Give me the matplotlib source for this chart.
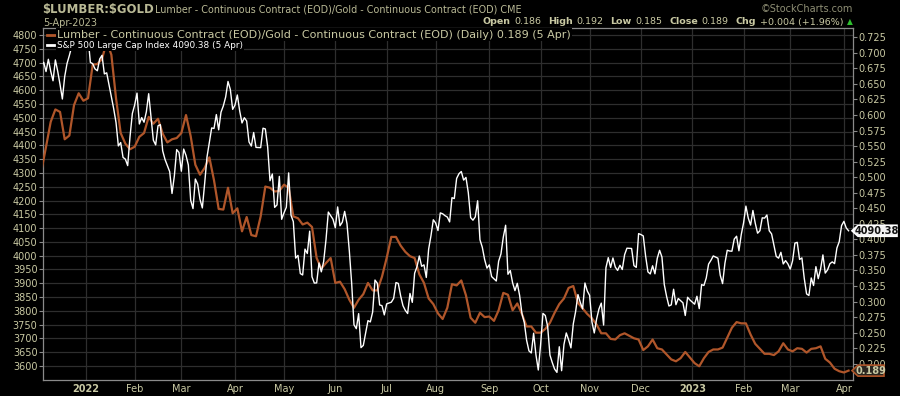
import numpy as np
import pandas as pd
import matplotlib
matplotlib.use("Agg")
import matplotlib.pyplot as plt
from matplotlib.lines import Line2D
from matplotlib.patches import Polygon
from matplotlib.transforms import IdentityTransform

plt.rcParams['font.family'] = ['DejaVu Sans']

# ------------------------------------------------------------------ data
# S&P 500 daily closes, one entry per weekday from SP_START (None = market holiday)
SP_START = "2021-12-07"
sp500_close = [
    # Dec 2021
    4686.75, 4701.21, 4667.45, 4712.02, 4668.97, 4634.09, 4709.85, 4668.67, 4620.64, 4568.02,
    4649.23, 4696.56, 4725.79, None, 4791.19, 4786.35, 4793.06, 4778.73, 4766.18,
    # Jan 2022
    4796.56, 4793.54, 4700.58, 4696.05, 4677.03, 4670.29, 4713.07, 4726.35, 4659.03, 4662.85,
    None, 4577.11, 4532.76, 4482.73, 4397.94, 4410.13, 4356.45, 4349.93, 4326.51, 4431.85, 4515.55,
    # Feb 2022
    4546.54, 4589.38, 4477.44, 4500.53, 4483.87, 4521.54, 4587.18, 4504.08, 4418.64, 4401.67,
    4471.07, 4475.01, 4380.26, 4348.87, None, 4304.76, 4225.50, 4288.70, 4384.65, 4373.94,
    # Mar 2022
    4306.26, 4386.54, 4363.49, 4328.87, 4201.09, 4170.70, 4277.88, 4259.52, 4204.31, 4173.11,
    4262.45, 4357.86, 4411.67, 4463.12, 4461.18, 4511.61, 4456.24, 4520.16, 4543.06, 4575.52,
    4631.60, 4602.45, 4530.41,
    # Apr 2022
    4545.86, 4582.64, 4525.12, 4481.15, 4500.21, 4488.28, 4412.53, 4397.45, 4446.59, 4392.59,
    None, 4391.69, 4462.21, 4459.45, 4393.66, 4271.78, 4296.12, 4175.20, 4183.96, 4287.50, 4131.93,
    # May 2022
    4155.38, 4175.48, 4300.17, 4146.87, 4123.34, 3991.24, 4001.05, 3935.18, 3930.08, 4023.89,
    4008.01, 4088.85, 3923.68, 3900.79, 3901.36, 3973.75, 3941.48, 3978.73, 4057.84, 4158.24,
    None, 4132.15,
    # Jun 2022
    4101.23, 4176.82, 4108.54, 4121.43, 4160.68, 4115.77, 4017.82, 3900.86, 3749.63, 3735.48,
    3789.99, 3666.77, 3674.84, None, 3764.79, 3759.89, 3795.73, 3911.74, 3900.11, 3821.55,
    3818.83, 3785.38,
    # Jul 2022
    3825.33, None, 3831.39, 3845.08, 3902.62, 3899.38, 3854.43, 3818.80, 3801.78, 3790.38,
    3863.16, 3830.85, 3936.69, 3959.90, 3998.95, 3961.63, 3966.84, 3921.05, 4023.61, 4072.43,
    4130.29,
    # Aug 2022
    4118.63, 4091.19, 4155.17, 4151.94, 4145.19, 4140.06, 4122.47, 4210.24, 4207.27, 4280.15,
    4297.14, 4305.20, 4274.04, 4283.74, 4228.48, 4137.99, 4128.73, 4140.77, 4199.12, 4057.66,
    4030.61, 3986.16, 3955.00,
    # Sep 2022
    3966.85, 3924.26, None, 3908.19, 3979.87, 4006.18, 4067.36, 4110.41, 3932.69, 3946.01,
    3901.35, 3873.33, 3899.89, 3855.93, 3789.93, 3757.99, 3693.23, 3655.04, 3647.29, 3719.04,
    3640.47, 3585.62,
    # Oct 2022
    3678.43, 3790.93, 3783.28, 3744.52, 3639.66, 3612.39, 3588.84, 3577.03, 3669.91, 3583.07,
    3677.95, 3719.98, 3695.16, 3665.78, 3752.75, 3797.34, 3859.11, 3830.60, 3807.30, 3901.06,
    3871.98,
    # Nov 2022
    3856.10, 3759.69, 3719.89, 3770.55, 3806.80, 3828.11, 3748.57, 3956.37, 3992.93, 3957.25,
    3991.73, 3958.79, 3946.56, 3965.34, 3949.94, 4003.58, 4027.26, None, 4026.12, 3963.94,
    3957.63, 4080.11,
    # Dec 2022
    4076.57, 4071.70, 3998.84, 3941.26, 3933.92, 3963.51, 3934.38, 3990.56, 4019.65, 3995.32,
    3895.75, 3852.36, 3817.66, 3821.62, 3878.44, 3822.39, 3844.82, None, 3829.25, 3783.22,
    3849.28, 3839.50,
    # Jan 2023
    None, 3824.14, 3852.97, 3808.10, 3895.08, 3892.09, 3919.25, 3969.61, 3983.17, 3999.09,
    None, 3990.97, 3928.86, 3898.85, 3972.61, 4019.81, 4016.95, 4016.22, 4060.43, 4070.56,
    4017.77, 4076.60,
    # Feb 2023
    4119.21, 4179.76, 4136.48, 4111.08, 4164.00, 4117.86, 4081.50, 4090.46, 4137.29, 4136.13,
    4147.60, 4090.41, 4079.09, None, 3997.34, 3991.05, 4012.32, 3970.04, 3982.24, 3970.15,
    # Mar 2023
    3951.39, 3981.35, 4045.64, 4048.42, 3986.37, 3992.01, 3918.32, 3861.59, 3855.76, 3919.29,
    3891.93, 3960.28, 3916.64, 3951.57, 4002.87, 3936.97, 3948.72, 3970.99, 3977.53, 3971.27,
    4027.81, 4050.83, 4109.31,
    # Apr 2023
    4124.51, 4100.60, 4090.38,
]

# Lumber/Gold ratio, read every second weekday from RATIO_START
RATIO_START = "2021-12-07"
lumber_gold_ratio = [
    0.510, 0.549, 0.589, 0.609, 0.605, 0.561, 0.567, 0.616, 0.635, 0.623,
    0.627, 0.681, 0.682, 0.690, 0.718, 0.697, 0.627, 0.571, 0.554, 0.545,
    0.549, 0.565, 0.571, 0.597, 0.586, 0.594, 0.570, 0.556, 0.561, 0.563,
    0.571, 0.600, 0.566, 0.520, 0.504, 0.515, 0.532, 0.495, 0.449, 0.448,
    0.483, 0.442, 0.450, 0.413, 0.436, 0.407, 0.405, 0.437, 0.485, 0.483,
    0.477, 0.478, 0.488, 0.483, 0.437, 0.434, 0.424, 0.427, 0.420, 0.370,
    0.353, 0.362, 0.370, 0.330, 0.332, 0.320, 0.303, 0.290, 0.303, 0.312,
    0.330, 0.318, 0.318, 0.340, 0.370, 0.404, 0.404, 0.390, 0.380, 0.373,
    0.370, 0.344, 0.330, 0.305, 0.296, 0.281, 0.272, 0.290, 0.328, 0.326,
    0.334, 0.310, 0.274, 0.266, 0.282, 0.275, 0.276, 0.269, 0.286, 0.314,
    0.311, 0.286, 0.297, 0.280, 0.260, 0.260, 0.250, 0.250, 0.256, 0.266,
    0.282, 0.296, 0.305, 0.322, 0.325, 0.298, 0.289, 0.280, 0.273, 0.263,
    0.249, 0.249, 0.240, 0.239, 0.246, 0.249, 0.245, 0.241, 0.239, 0.222,
    0.228, 0.239, 0.225, 0.223, 0.215, 0.207, 0.204, 0.209, 0.219, 0.210,
    0.201, 0.196, 0.209, 0.219, 0.223, 0.223, 0.226, 0.242, 0.258, 0.267,
    0.265, 0.265, 0.247, 0.232, 0.224, 0.216, 0.216, 0.214, 0.220, 0.233,
    0.223, 0.220, 0.225, 0.224, 0.218, 0.224, 0.225, 0.228, 0.208, 0.202,
    0.192, 0.188, 0.186, 0.189,
]

month_tick_labels = ["2022", "Feb", "Mar", "Apr", "May", "Jun", "Jul", "Aug",
                     "Sep", "Oct", "Nov", "Dec", "2023", "Feb", "Mar", "Apr"]
sp_ticks = list(range(3600, 4801, 50))
ratio_ticks = [round(0.200 + 0.025 * i, 3) for i in range(22)]

title_symbol = "$LUMBER:$GOLD"
title_desc = "Lumber - Continuous Contract (EOD)/Gold - Continuous Contract (EOD) CME"
date_text = "5-Apr-2023"
ohlc_parts = [("Open", True), ("0.186", False), ("High", True), ("0.192", False),
              ("Low", True), ("0.185", False), ("Close", True), ("0.189", False),
              ("Chg", True), ("+0.004 (+1.96%)", False)]
legend_ratio = "Lumber - Continuous Contract (EOD)/Gold - Continuous Contract (EOD) (Daily) 0.189 (5 Apr)"
legend_sp = "S&P 500 Large Cap Index 4090.38 (5 Apr)"

# ------------------------------------------------------------------ style
BG = "#000000"
GRID = "#2e2e2e"
FRAME = "#8a8a8a"
TXT = "#c9c9a3"
TITLE = "#b9b995"
BROWN = "#b0562a"
W, H = 900, 396
L, R, T, B = 43, 853, 28, 380

def fx(x):
    return x / W

def fy(y):
    return 1 - y / H

# ------------------------------------------------------------------ positions
axis_days = pd.bdate_range(SP_START, "2023-06-30")
sp = pd.Series(sp500_close, index=pd.bdate_range(SP_START, periods=len(sp500_close)),
               dtype=float).dropna()
ratio_dates = pd.bdate_range(RATIO_START, periods=len(lumber_gold_ratio), freq="2B")
x_sp = axis_days.get_indexer(sp.index)
x_ratio = axis_days.get_indexer(ratio_dates)

firsts = axis_days.to_series().groupby(axis_days.to_period("M")).first()
firsts = firsts[(firsts >= pd.Timestamp("2022-01-01")) & (firsts <= sp.index[-1])]
tick_x = axis_days.get_indexer(pd.DatetimeIndex(firsts.values))

# ------------------------------------------------------------------ figure
fig = plt.figure(figsize=(W / 100, H / 100), dpi=100, facecolor=BG)
ax = fig.add_axes([fx(L), fy(B), (R - L) / W, (B - T) / H])
ax.set_facecolor(BG)
axr = ax.twinx()
axw = ax.twinx()

ax.set_xlim(0.7, x_sp[-1] + 1.9)
ax.set_ylim(3549.4, 4825.4)
ax.set_yticks(sp_ticks)
ax.set_yticklabels([str(v) for v in sp_ticks])
ax.set_xticks(tick_x)
ax.set_xticklabels(month_tick_labels[:len(tick_x)])
ax.grid(True, color=GRID, lw=0.9)
ax.set_axisbelow(True)
ax.tick_params(axis="y", colors=FRAME, labelcolor=TXT, labelsize=7, length=3, width=0.8, pad=1)
ax.tick_params(axis="x", length=0, labelcolor=TXT, labelsize=7, pad=3)
for lbl in ax.get_xticklabels():
    if lbl.get_text() in ("2022", "2023"):
        lbl.set_fontweight("bold")
for s in ax.spines.values():
    s.set_color(FRAME)
    s.set_linewidth(0.9)

axr.set_ylim(0.1739, 0.73996)
axr.set_yticks(ratio_ticks)
axr.set_yticklabels([f"{v:.3f}" for v in ratio_ticks])
axr.tick_params(axis="y", colors=FRAME, labelcolor=TXT, labelsize=7, length=3, width=0.8, pad=1)
axr.plot(x_ratio, lumber_gold_ratio, color=BROWN, lw=1.6, solid_joinstyle="round")
for s in axr.spines.values():
    s.set_visible(False)

axw.set_ylim(ax.get_ylim())
axw.set_yticks([])
axw.plot(x_sp, sp.values, color="white", lw=1.0, solid_joinstyle="round")
for s in axw.spines.values():
    s.set_visible(False)

# ------------------------------------------------------------------ legend in plot
fig.add_artist(Line2D([fx(46.5), fx(55)], [fy(34.5), fy(34.5)], color=BROWN, lw=2))
fig.text(fx(57), fy(34.5), legend_ratio, color=TXT, fontsize=8.0, va="center", ha="left",
         bbox=dict(facecolor=BG, edgecolor="none", pad=0.8))
fig.add_artist(Line2D([fx(46.5), fx(54)], [fy(45), fy(45)], color="white", lw=2))
fig.text(fx(57), fy(45), legend_sp, color="white", fontsize=6.4, va="center", ha="left",
         bbox=dict(facecolor=BG, edgecolor="none", pad=0.8))

# ------------------------------------------------------------------ header
fig.text(fx(42), fy(9.5), title_symbol, fontsize=8.4, fontweight="bold", color=TITLE,
         va="center", ha="left", parse_math=False)
fig.text(fx(155), fy(9.5), title_desc, fontsize=6.95, color=TITLE, va="center", ha="left")
fig.text(fx(43), fy(23), date_text, fontsize=7, color=TITLE, va="center", ha="left")
fig.text(fx(853), fy(9.5), "\u00a9StockCharts.com", fontsize=7, color="#8f8f75",
         va="center", ha="right")

fig.canvas.draw()
renderer = fig.canvas.get_renderer()
ident = IdentityTransform()
texts = []
cursor = 0.0
for s, bold in ohlc_parts:
    t = fig.text(cursor, H - 22, s, fontsize=6.8, color=TXT, va="center", ha="left",
                 fontweight="bold" if bold else "normal", transform=ident)
    w = t.get_window_extent(renderer).width
    texts.append(t)
    cursor += w + (3.5 if bold else 7)
shift = 843 - (cursor - 7)
for t in texts:
    xx, yy = t.get_position()
    t.set_position((xx + shift, yy))
fig.text(847, H - 22, "\u25b2", fontsize=5.5, color="#2fbf2f", va="center", ha="left",
         transform=ident)

# ------------------------------------------------------------------ value tags
def value_tag(axis, x, y, label, face, edge, tcolor, right):
    _, Y = axis.transData.transform((x, y))
    pts = [(R - 1, Y), (R + 5, Y + 5.5), (right, Y + 5.5), (right, Y - 5.5), (R + 5, Y - 5.5)]
    fig.add_artist(Polygon(pts, closed=True, facecolor=face, edgecolor=edge, lw=1.2,
                           transform=ident))
    fig.text((R + 4 + right) / 2, Y, label, fontsize=7, fontweight="bold", color=tcolor,
             va="center", ha="center", transform=ident)

value_tag(axw, x_sp[-1], sp.values[-1], f"{sp.values[-1]:.2f}", "#f2f2f2", "#ffffff",
          "#111111", 897)
value_tag(axr, x_ratio[-1], lumber_gold_ratio[-1], f"{lumber_gold_ratio[-1]:.3f}",
          "#2a2620", BROWN, TXT, 884)

fig.savefig("out.png", dpi=100, facecolor=BG)
